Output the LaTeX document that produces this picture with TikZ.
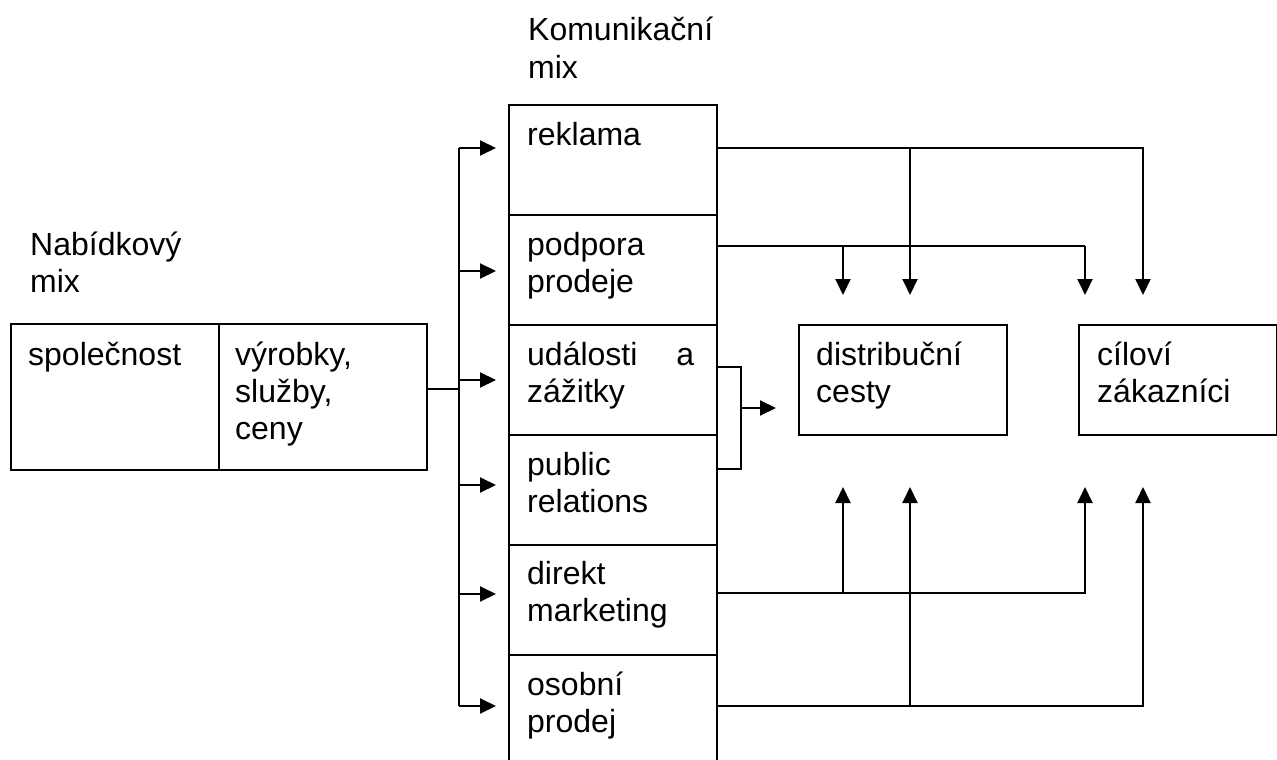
\documentclass[tikz,border=0pt]{standalone}
\usepackage{fontspec}
\setmainfont{Liberation Sans}
\usetikzlibrary{arrows.meta}
\tikzset{
  box/.style={draw, line width=2pt, inner sep=0pt, anchor=north west},
  txt/.style={inner sep=0pt, anchor=base west, font=\fontsize{32pt}{36.8pt}\selectfont},
  conn/.style={line width=2pt},
  arr/.style={conn, -{Triangle[length=16pt,width=15pt]}}
}
\begin{document}
\begin{tikzpicture}[x=1pt,y=-1pt]
\useasboundingbox (0,0) rectangle (1277,760);
\clip (0,0) rectangle (1277,760);
% headings
\node[txt] (kom1) at (528,41) {Komunikační};
\node[txt] (kom2) at (528,78) {mix};
\node[txt] (nab1) at (30,255) {Nabídkový};
\node[txt] (nab2) at (30,292) {mix};
% left box
\node[box, minimum width=208pt, minimum height=146pt] (soc) at (10,323) {};
\node[box, minimum width=208pt, minimum height=146pt] (vyr) at (218,323) {};
\node[txt] (tsoc) at (28,365) {společnost};
\node[txt] (tvyr1) at (235,365) {výrobky,};
\node[txt] (tvyr2) at (235,402) {služby,};
\node[txt] (tvyr3) at (235,439) {ceny};
% communication column
\node[box, minimum width=208pt, minimum height=110pt] (rek) at (508,104) {};
\node[box, minimum width=208pt, minimum height=110pt] (pod) at (508,214) {};
\node[box, minimum width=208pt, minimum height=110pt] (uda) at (508,324) {};
\node[box, minimum width=208pt, minimum height=110pt] (pub) at (508,434) {};
\node[box, minimum width=208pt, minimum height=110pt] (dir) at (508,544) {};
\node[box, minimum width=208pt, minimum height=130pt] (oso) at (508,654) {};
\node[txt] (trek) at (527,145) {reklama};
\node[txt] (tpod1) at (527,255) {podpora};
\node[txt] (tpod2) at (527,292) {prodeje};
\node[txt] (tuda1) at (527,365) {\hbox to 167pt{události\hfill a}};
\node[txt] (tuda2) at (527,402) {zážitky};
\node[txt] (tpub1) at (527,475) {public};
\node[txt] (tpub2) at (527,512) {relations};
\node[txt] (tdir1) at (527,584) {direkt};
\node[txt] (tdir2) at (527,621) {marketing};
\node[txt] (toso1) at (527,695) {osobní};
\node[txt] (toso2) at (527,732) {prodej};
% right boxes
\node[box, minimum width=208pt, minimum height=110pt] (dis) at (798,324) {};
\node[box, minimum width=198pt, minimum height=110pt] (cil) at (1078,324) {};
\node[txt] (tdis1) at (816,365) {distribuční};
\node[txt] (tdis2) at (816,402) {cesty};
\node[txt] (tcil1) at (1097,365) {cíloví};
\node[txt] (tcil2) at (1097,402) {zákazníci};
% bus on the left of the column
\coordinate (j) at (459,389);
\coordinate (b1) at (459,148);
\coordinate (b2) at (459,271);
\coordinate (b3) at (459,380);
\coordinate (b4) at (459,485);
\coordinate (b5) at (459,594);
\coordinate (b6) at (459,706);
\draw[conn] (vyr.east |- j) -- (j);
\draw[conn] (b1) -- (b6);
\draw[arr, shorten >=12pt] (b1) -- (b1 -| rek.west);
\draw[arr, shorten >=12pt] (b2) -- (b2 -| pod.west);
\draw[arr, shorten >=12pt] (b3) -- (b3 -| uda.west);
\draw[arr, shorten >=12pt] (b4) -- (b4 -| pub.west);
\draw[arr, shorten >=12pt] (b5) -- (b5 -| dir.west);
\draw[arr, shorten >=12pt] (b6) -- (b6 -| oso.west);
% target points on the right boxes
\coordinate (tA) at (843,324);
\coordinate (tB) at (910,324);
\coordinate (tC) at (1085,324);
\coordinate (tD) at (1143,324);
\coordinate (uA) at (843,434);
\coordinate (uB) at (910,434);
\coordinate (uC) at (1085,434);
\coordinate (uD) at (1143,434);
\coordinate (ya) at (0,148);
\coordinate (yb) at (0,246);
\coordinate (yd) at (0,593);
\coordinate (ye) at (0,706);
% reklama
\draw[arr, shorten >=29pt] (rek.east |- ya) -| (tD);
\draw[arr, shorten >=29pt] (tB |- ya) -- (tB);
% podpora
\draw[conn] (pod.east |- yb) -- (tC |- yb);
\draw[arr, shorten >=29pt] (tA |- yb) -- (tA);
\draw[arr, shorten >=29pt] (tC |- yb) -- (tC);
% udalosti + public relations bracket
\coordinate (k1) at (741,367);
\coordinate (k2) at (741,469);
\coordinate (km) at (741,408);
\draw[conn] (uda.east |- k1) -- (k1) -- (k2) -- (pub.east |- k2);
\draw[arr, shorten >=22pt] (km) -- (km -| dis.west);
% direkt marketing
\draw[arr, shorten >=53pt] (dir.east |- yd) -| (uC);
\draw[arr, shorten >=53pt] (uA |- yd) -- (uA);
% osobni prodej
\draw[arr, shorten >=53pt] (oso.east |- ye) -| (uD);
\draw[arr, shorten >=53pt] (uB |- ye) -- (uB);
\end{tikzpicture}
\end{document}
